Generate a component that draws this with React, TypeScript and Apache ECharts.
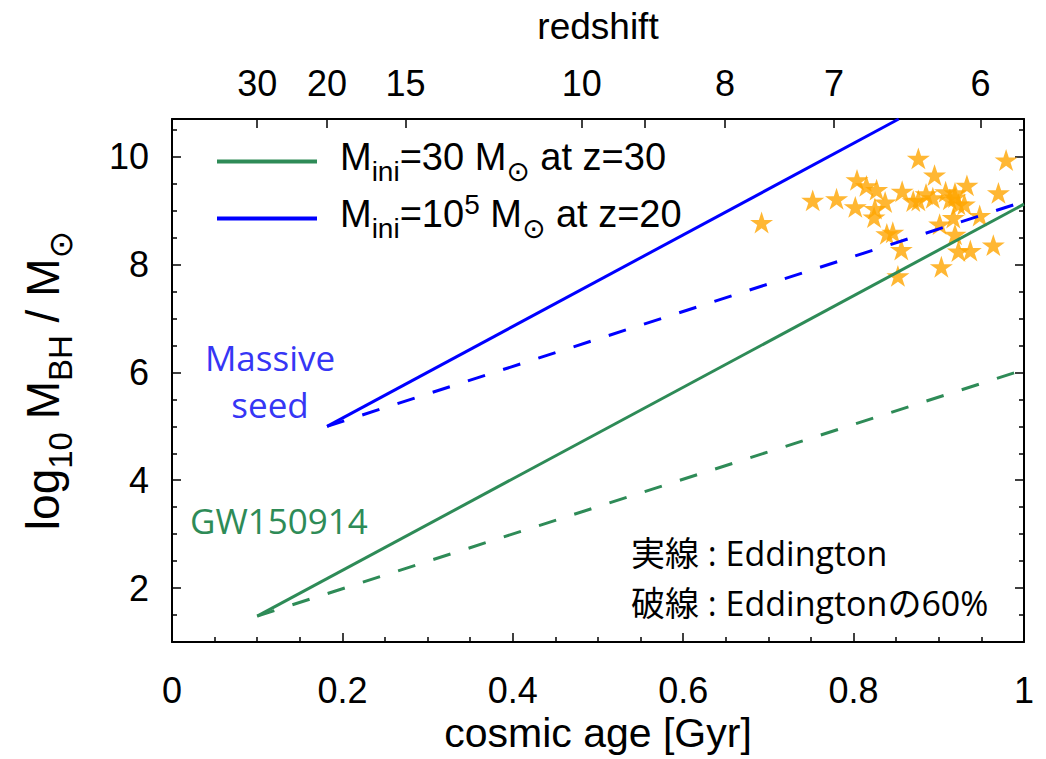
import React, { useEffect, useRef } from "react";
import * as echarts from "echarts";

// ---- data ----
const yMajorTicks = [2, 4, 6, 8, 10];
const yMinorTicks = [1.5, 2.5, 3, 3.5, 4.5, 5, 5.5, 6.5, 7, 7.5, 8.5, 9, 9.5, 10.5];
const redshiftValues = [30, 20, 15, 10, 9, 8, 7, 6];
const redshiftAges = [0.1, 0.182, 0.274, 0.481, 0.555, 0.649, 0.777, 0.949];
const redshiftLabelled = [30, 20, 15, 10, 8, 7, 6];

const popIIIEdd = [[0.1, 1.48], [1.0, 9.12]];
const popIIIEdd60 = [[0.1, 1.48], [1.0, 6.05]];
const massiveEdd = [[0.182, 5.0], [0.853, 10.7]];
const massiveEdd60 = [[0.182, 5.0], [1.0, 9.17]];

const quasarAge = [
  0.692, 0.752, 0.78, 0.804, 0.802, 0.815, 0.827, 0.825, 0.824, 0.837,
  0.839, 0.846, 0.856, 0.852, 0.876, 0.895, 0.857, 0.87, 0.876, 0.885,
  0.893, 0.908, 0.919, 0.933, 0.923, 0.93, 0.917, 0.901, 0.919, 0.923,
  0.937, 0.948, 0.964, 0.903, 0.97, 0.979, 0.913, 0.919,
];
const quasarLogM = [
  8.78, 9.19, 9.22, 9.57, 9.07, 9.46, 9.39, 9.04, 8.88, 9.16,
  8.57, 8.6, 8.28, 7.79, 9.97, 9.66, 9.36, 9.18, 9.19, 9.31,
  9.24, 9.35, 9.33, 9.47, 9.12, 9.12, 8.87, 8.75, 8.56, 8.25,
  8.26, 8.91, 8.36, 7.96, 9.33, 9.94, 9.21, 9.25,
];

const GREEN = "#2e8b57";
const BLUE = "#0000ff";
const ORANGE = "#ffa500";
const FONT = '"Liberation Sans", Arial, "DejaVu Sans", sans-serif';
const CAL = '"Open Sans", "Noto Sans CJK JP", sans-serif';
const STAR =
  "path://M0,-10 L2.245,-3.09 L9.511,-3.09 L3.633,1.18 L5.878,8.09 L0,3.82 L-5.878,8.09 L-3.633,1.18 L-9.511,-3.09 L-2.245,-3.09 Z";

const LEG1 = "Mini=30 Msun at z=30";
const LEG2 = "Mini=1e5 Msun at z=20";

export default function App() {
  const ref = useRef<HTMLDivElement>(null);
  useEffect(() => {
    document.body.style.margin = "0";
    if (!ref.current) return;
    const chart = echarts.init(ref.current, null, { renderer: "svg" });
    const baseAxis = {
      type: "value" as const,
      splitLine: { show: false },
      minorSplitLine: { show: false },
    };
    const line = { color: "#000", width: 2 };
    const tick = { color: "#000", width: 1.5 };
    const mk = (fs: number, sub: number, lh: number) => ({
      m: { fontSize: fs, fontFamily: FONT, color: "#000", lineHeight: lh, verticalAlign: "middle" },
      s: {
        fontSize: sub, fontFamily: FONT, color: "#000", lineHeight: lh, verticalAlign: "middle",
        padding: [Math.round(fs * 0.76), 0, 0, 0],
      },
      u: {
        fontSize: sub, fontFamily: FONT, color: "#000", lineHeight: lh, verticalAlign: "middle",
        padding: [0, 0, Math.round(fs * 0.51), 0],
      },
    });
    const zLabelAges = redshiftLabelled.map((z) => redshiftAges[redshiftValues.indexOf(z)]);
    const option: any = {
      animation: false,
      backgroundColor: "#fff",
      grid: { left: 172, right: 22, top: 119, bottom: 117, containLabel: false, outerBoundsMode: "none" },
      legend: {
        data: [LEG1, LEG2],
        orient: "vertical",
        left: 212,
        top: 123,
        icon: "rect",
        itemWidth: 100,
        itemHeight: 4,
        itemGap: 0,
        selectedMode: false,
        formatter: (name: string) =>
          name === LEG1
            ? "{m|M}{s|ini}{m|=30 M}{s|⊙}{m| at z=30}"
            : "{m|M}{s|ini}{m|=10}{u|5}{m| M}{s|⊙}{m| at z=20}",
        textStyle: { padding: [0, 0, 10, 18], rich: mk(38, 28, 36) },
      },
      xAxis: [
        {
          ...baseAxis,
          position: "bottom",
          min: 0,
          max: 1,
          interval: 0.2,
          axisLine: { show: true, onZero: false, lineStyle: line },
          axisTick: { show: true, inside: true, length: 9, lineStyle: tick },
          minorTick: { show: true, splitNumber: 4, length: 5, lineStyle: tick },
          axisLabel: {
            fontSize: 36,
            color: "#000",
            fontFamily: FONT,
            margin: 30,
            formatter: (v: number) => String(+v.toFixed(1)),
          },
          name: "cosmic age [Gyr]",
          nameLocation: "middle",
          nameGap: 69,
          nameTextStyle: { fontSize: 41, color: "#000", fontFamily: FONT },
        },
        {
          ...baseAxis,
          position: "top",
          min: 0,
          max: 1,
          axisLine: { show: true, onZero: false, lineStyle: line },
          axisTick: { show: true, inside: true, length: 9, lineStyle: tick, customValues: redshiftAges },
          axisLabel: {
            fontSize: 36,
            color: "#000",
            fontFamily: FONT,
            margin: 18,
            customValues: zLabelAges,
            formatter: (v: number) => {
              const i = redshiftAges.findIndex((a) => Math.abs(a - v) < 1e-6);
              return i >= 0 ? String(redshiftValues[i]) : "";
            },
          },
          name: "redshift",
          nameLocation: "middle",
          nameGap: 74,
          nameTextStyle: { fontSize: 37, color: "#000", fontFamily: FONT },
        },
      ],
      yAxis: [
        {
          ...baseAxis,
          position: "left",
          min: 1,
          max: 10.7,
          axisLine: { show: true, onZero: false, lineStyle: line },
          axisTick: { show: true, inside: true, length: 9, lineStyle: tick, customValues: yMajorTicks },
          axisLabel: { fontSize: 36, color: "#000", fontFamily: FONT, margin: 23, customValues: yMajorTicks },
          name: "{m|log}{s|10}{m| M}{s|BH}{m| / M}{s|⊙}",
          nameLocation: "middle",
          nameRotate: 90,
          nameGap: 106,
          nameTextStyle: { rich: mk(46, 33, 46) },
        },
        {
          ...baseAxis,
          position: "left",
          min: 1,
          max: 10.7,
          axisLine: { show: false, onZero: false },
          axisTick: { show: true, inside: true, length: 5, lineStyle: tick, customValues: yMinorTicks },
          axisLabel: { show: false },
        },
        {
          ...baseAxis,
          position: "right",
          min: 1,
          max: 10.7,
          axisLine: { show: true, onZero: false, lineStyle: line },
          axisTick: { show: true, inside: true, length: 9, lineStyle: tick, customValues: yMajorTicks },
          axisLabel: { show: false },
        },
        {
          ...baseAxis,
          position: "right",
          min: 1,
          max: 10.7,
          axisLine: { show: false, onZero: false },
          axisTick: { show: true, inside: true, length: 5, lineStyle: tick, customValues: yMinorTicks },
          axisLabel: { show: false },
        },
      ],
      series: [
        {
          type: "scatter",
          name: "quasars",
          data: quasarAge.map((a, i) => [a, quasarLogM[i]]),
          symbol: STAR,
          symbolSize: 23,
          symbolKeepAspect: true,
          itemStyle: { color: ORANGE },
          z: 2,
          silent: true,
        },
        {
          type: "line", name: LEG1, data: popIIIEdd, symbol: "none",
          lineStyle: { color: GREEN, width: 3 }, itemStyle: { color: GREEN }, z: 3,
        },
        {
          type: "line", name: "popIII 60%", data: popIIIEdd60, symbol: "none",
          lineStyle: { color: GREEN, width: 3, type: [18, 19] }, itemStyle: { color: GREEN }, z: 3,
        },
        {
          type: "line", name: LEG2, data: massiveEdd, symbol: "none",
          lineStyle: { color: BLUE, width: 3 }, itemStyle: { color: BLUE }, z: 3,
        },
        {
          type: "line", name: "massive 60%", data: massiveEdd60, symbol: "none",
          lineStyle: { color: BLUE, width: 3, type: [18, 19] }, itemStyle: { color: BLUE }, z: 3,
        },
      ],
      graphic: [
        {
          type: "text", x: 270, y: 381, z: 10,
          style: { text: "Massive\nseed", fill: "#3636f5", fontSize: 35, fontFamily: CAL, align: "center", verticalAlign: "middle", lineHeight: 47 },
        },
        {
          type: "text", x: 190, y: 520, z: 10,
          style: { text: "GW150914", fill: GREEN, fontSize: 35, fontFamily: CAL, align: "left", verticalAlign: "middle" },
        },
        {
          type: "text", x: 631, y: 553, z: 10,
          style: { text: "実線 : Eddington", fill: "#000", fontSize: 34, fontFamily: CAL, align: "left", verticalAlign: "middle" },
        },
        {
          type: "text", x: 631, y: 603, z: 10,
          style: { text: "破線 : Eddingtonの60%", fill: "#000", fontSize: 34, fontFamily: CAL, align: "left", verticalAlign: "middle" },
        },
      ],
    };
    chart.setOption(option);
    return () => chart.dispose();
  }, []);
  return <div ref={ref} style={{ width: 1046, height: 759 }} />;
}
